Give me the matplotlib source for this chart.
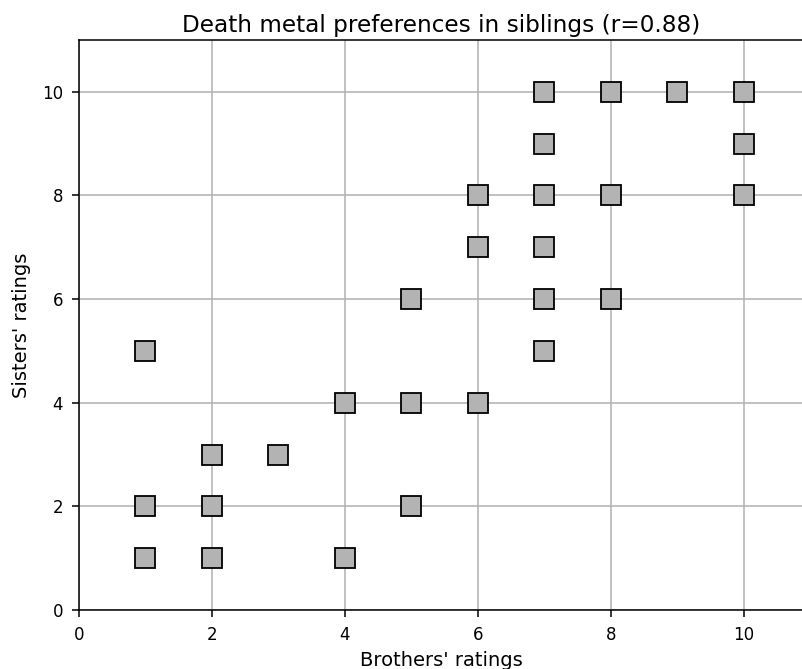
import matplotlib.pyplot as plt

# ratings of each sibling pair (brother, sister)
brothers = [1, 1, 1, 2, 2, 2, 3, 4, 4, 5, 5, 5, 6, 6, 6,
            7, 7, 7, 7, 7, 7, 8, 8, 8, 9, 10, 10, 10]
sisters = [5, 2, 1, 3, 2, 1, 3, 4, 1, 6, 4, 2, 8, 7, 4,
           10, 9, 8, 7, 6, 5, 10, 8, 6, 10, 10, 9, 8]
r = 0.88

fig = plt.figure(figsize=(8.03, 6.69), dpi=100)
ax = fig.add_axes([79 / 803, 59 / 669, 1 - 79 / 803, 570 / 669])
ax.plot(brothers, sisters, 's', markersize=14, markerfacecolor=(0.7, 0.7, 0.7),
        markeredgecolor='k', markeredgewidth=1.3, zorder=3)
ax.set_xlim(0, 10.89)
ax.set_ylim(0, 11)
ax.set_xticks([0, 2, 4, 6, 8, 10])
ax.set_yticks([0, 2, 4, 6, 8, 10])
ax.grid(True, linewidth=1.1)
for s in ax.spines.values():
    s.set_linewidth(1.1)
ax.set_xlabel("Brothers' ratings", fontsize=14, labelpad=5)
ax.set_ylabel("Sisters' ratings", fontsize=14, labelpad=8)
ax.set_title(f'Death metal preferences in siblings (r={r:.2f})', fontsize=16.7)
ax.tick_params(labelsize=12, length=4.9, width=1.1, pad=6.5)

plt.savefig('out.png', dpi=100)
